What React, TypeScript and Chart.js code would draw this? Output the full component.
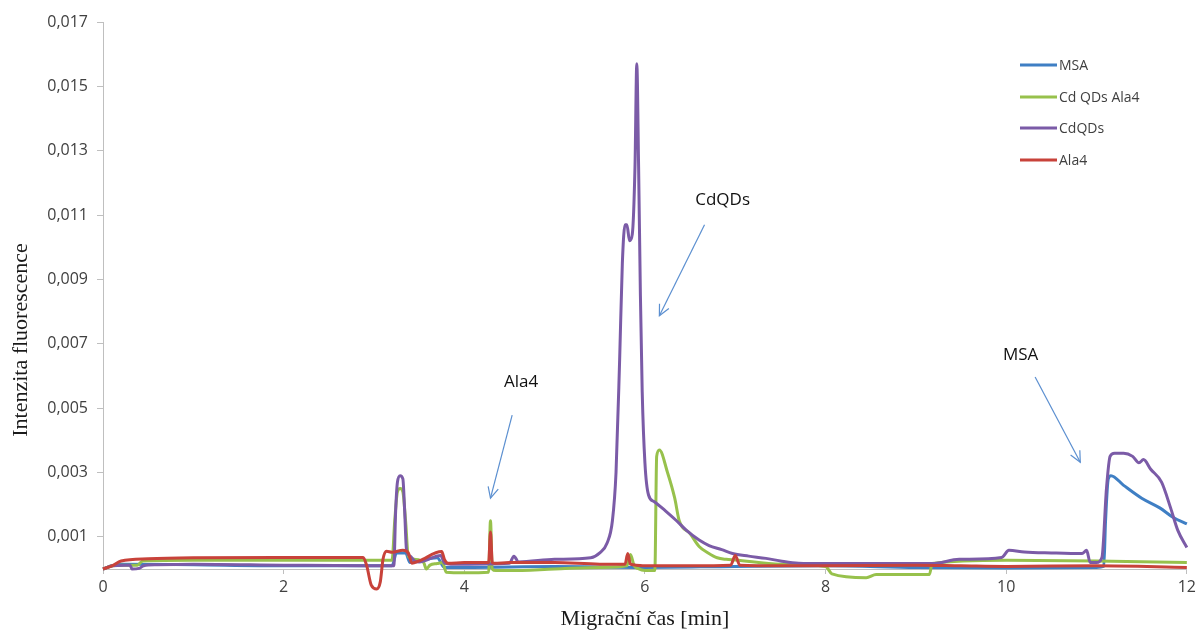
import React, { useEffect, useRef } from "react";
import { Chart, registerables } from "chart.js";

Chart.register(...registerables);

// MSA
const msaX = [0, 0.1, 0.2, 1.0, 2.0, 2.9, 3.2, 3.25, 3.3, 3.35, 3.4, 3.7, 3.78, 4.0, 5.0, 6.0, 7.0, 8.0, 9.0, 10.0, 11.0, 11.08, 11.1, 11.13, 11.16, 11.3, 11.5, 11.7, 11.85, 12.0];
const msaY = [0, 0.0001, 0.00015, 0.00013, 0.0001, 0.0001, 0.0001, 0.0005, 0.0005, 0.0005, 0.0002, 0.00035, 0.00005, 0.00005, 0.00008, 0.00005, 0.00008, 0.0001, 0.00005, 0.00003, 0.00005, 0.00008, 0.0015, 0.0028, 0.0029, 0.0026, 0.0022, 0.0019, 0.0016, 0.0014];

// Cd QDs Ala4
const cdAlaX = [0, 0.1, 0.2, 0.38, 0.44, 1.0, 2.0, 2.9, 3.2, 3.23, 3.26, 3.29, 3.32, 3.35, 3.38, 3.45, 3.55, 3.58, 3.62, 3.7, 3.76, 3.8, 4.0, 4.27, 4.29, 4.31, 4.35, 4.5, 5.0, 5.5, 5.8, 5.84, 5.88, 5.92, 6.0, 6.11, 6.13, 6.16, 6.25, 6.33, 6.38, 6.5, 6.6, 6.7, 6.8, 6.9, 7.0, 7.5, 8.0, 8.07, 8.45, 8.56, 9.15, 9.18, 10.0, 11.0, 12.0];
const cdAlaY = [0, 0.0001, 0.00012, 0.00012, 0.00025, 0.00027, 0.00027, 0.00027, 0.00027, 0.0015, 0.0024, 0.0025, 0.0024, 0.0015, 0.0004, 0.0003, 0.0002, 0.0, 0.00012, 0.00017, 0.0002, -0.0001, -0.00012, -0.0001, 0.0015, 0.0, -0.00005, -0.00005, 0.0, 0.00005, 0.0001, 0.00045, 0.0001, 0.00002, -0.00005, -0.00005, 0.0035, 0.0037, 0.003, 0.0022, 0.0015, 0.0011, 0.0007, 0.0005, 0.00035, 0.0003, 0.00028, 0.00015, 0.00008, -0.00015, -0.00027, -0.00017, -0.00017, 0.00017, 0.00027, 0.00025, 0.0002];

// CdQDs
const cdqdX = [0, 0.1, 0.25, 0.3, 0.32, 0.4, 0.45, 0.6, 1.0, 2.0, 2.9, 3.22, 3.24, 3.26, 3.29, 3.32, 3.34, 3.36, 3.4, 3.45, 3.5, 3.74, 3.78, 3.85, 4.5, 4.55, 4.6, 5.0, 5.4, 5.5, 5.58, 5.64, 5.68, 5.72, 5.75, 5.78, 5.8, 5.83, 5.86, 5.89, 5.91, 5.93, 5.95, 5.97, 6.0, 6.04, 6.1, 6.23, 6.35, 6.46, 6.6, 6.71, 6.85, 6.97, 7.15, 7.34, 7.5, 7.7, 8.0, 9.0, 9.18, 9.48, 9.95, 10.03, 10.2, 10.5, 10.84, 10.89, 10.93, 11.0, 11.06, 11.11, 11.15, 11.2, 11.3, 11.4, 11.47, 11.52, 11.6, 11.72, 11.82, 11.9, 12.0];
const cdqdY = [0, 0.0001, 0.00012, 0.00012, 0.0, 0.00002, 0.0001, 0.00013, 0.00015, 0.00012, 0.0001, 0.0001, 0.0018, 0.0027, 0.0029, 0.0028, 0.0018, 0.0006, 0.0004, 0.00025, 0.00022, 0.00042, 0.00018, 0.00015, 0.00018, 0.0004, 0.00022, 0.0003, 0.00035, 0.0005, 0.0008, 0.0015, 0.003, 0.0065, 0.0095, 0.0107, 0.0107, 0.0102, 0.0104, 0.0125, 0.0157, 0.0125, 0.0085, 0.0055, 0.0033, 0.0023, 0.0021, 0.0018, 0.0015, 0.0012, 0.0009, 0.00073, 0.0006, 0.00048, 0.0004, 0.00033, 0.00025, 0.00018, 0.00017, 0.00017, 0.00017, 0.0003, 0.00036, 0.00058, 0.00053, 0.0005, 0.00048, 0.00058, 0.0002, 0.0002, 0.00036, 0.0025, 0.0035, 0.0036, 0.0036, 0.0035, 0.0033, 0.0034, 0.0031, 0.0027, 0.0019, 0.0012, 0.00067];

// Ala4
const alaX = [0, 0.1, 0.2, 0.5, 1.0, 2.0, 2.88, 2.92, 2.97, 3.03, 3.07, 3.1, 3.14, 3.2, 3.32, 3.38, 3.42, 3.5, 3.75, 3.78, 3.82, 4.0, 4.27, 4.29, 4.31, 4.33, 4.5, 5.0, 5.5, 5.78, 5.81, 5.84, 5.9, 6.0, 6.5, 6.95, 7.0, 7.05, 7.5, 8.0, 9.0, 9.5, 10.0, 11.0, 12.0];
const alaY = [0, 0.0001, 0.00025, 0.00032, 0.00035, 0.00036, 0.00036, 0.0001, -0.0005, -0.00062, -0.0004, 0.0003, 0.00055, 0.00052, 0.00058, 0.0005, 0.00018, 0.00025, 0.00054, 0.0003, 0.00018, 0.0002, 0.0002, 0.00115, 0.0002, 0.00018, 0.0002, 0.0002, 0.00015, 0.00015, 0.00048, 0.00015, 0.00012, 0.0001, 0.0001, 0.00012, 0.00042, 0.00012, 0.0001, 0.0001, 0.00012, 0.0001, 0.00008, 0.0001, 0.00005];

const yTicks = [0.001, 0.003, 0.005, 0.007, 0.009, 0.011, 0.013, 0.015, 0.017];
const xTicks = [0, 2, 4, 6, 8, 10, 12];

const seriesNames = ["MSA", "Cd QDs Ala4", "CdQDs", "Ala4"];
const seriesColors = ["#3f7fc4", "#97c14c", "#7b5ba7", "#c8423a"];

// annotations: label position and arrow from/to, in data coordinates
const annLabels = ["Ala4", "CdQDs", "MSA"];
const annText = [[4.63, 0.00581], [6.86, 0.01145], [10.16, 0.00665]];
const annFrom = [[4.53, 0.00478], [6.66, 0.0107], [10.32, 0.00597]];
const annTo = [[4.29, 0.0022], [6.16, 0.00787], [10.82, 0.00332]];

const SANS = "'Open Sans', sans-serif";
const SERIF = "'Liberation Serif', 'Times New Roman', serif";

function toPoints(xs: number[], ys: number[]) {
  return xs.map((x, i) => ({ x, y: ys[i] }));
}

const overlayPlugin = {
  id: "overlay",
  afterDraw(chart: any) {
    const ctx = chart.ctx as CanvasRenderingContext2D;
    const xs = chart.scales.x;
    const ys = chart.scales.y;
    const area = chart.chartArea;
    ctx.save();
    // axis titles
    ctx.fillStyle = "#1a1a1a";
    ctx.font = `22px ${SERIF}`;
    ctx.textAlign = "center";
    ctx.textBaseline = "middle";
    ctx.fillText("Migrační čas [min]", (area.left + area.right) / 2, 619);
    ctx.save();
    ctx.translate(21, 340);
    ctx.rotate(-Math.PI / 2);
    ctx.fillText("Intenzita fluorescence", 0, 0);
    ctx.restore();

    // legend
    ctx.font = `14px ${SANS}`;
    ctx.textAlign = "left";
    ctx.textBaseline = "middle";
    const legY = [65, 97, 128, 160];
    seriesNames.forEach((n, i) => {
      ctx.strokeStyle = seriesColors[i];
      ctx.lineWidth = 3;
      ctx.beginPath();
      ctx.moveTo(1020, legY[i]);
      ctx.lineTo(1057, legY[i]);
      ctx.stroke();
      ctx.fillStyle = "#404040";
      ctx.fillText(n, 1059, legY[i] + 1);
    });

    // annotations
    ctx.font = `17px ${SANS}`;
    ctx.textAlign = "center";
    ctx.fillStyle = "#111";
    annLabels.forEach((t, i) => {
      ctx.fillText(t, xs.getPixelForValue(annText[i][0]), ys.getPixelForValue(annText[i][1]));
      const x1 = xs.getPixelForValue(annFrom[i][0]);
      const y1 = ys.getPixelForValue(annFrom[i][1]);
      const x2 = xs.getPixelForValue(annTo[i][0]);
      const y2 = ys.getPixelForValue(annTo[i][1]);
      ctx.strokeStyle = "#5b8fd0";
      ctx.lineWidth = 1.2;
      ctx.beginPath();
      ctx.moveTo(x1, y1);
      ctx.lineTo(x2, y2);
      ctx.stroke();
      const ang = Math.atan2(y2 - y1, x2 - x1);
      const L = 12;
      const spread = 0.45;
      ctx.beginPath();
      ctx.moveTo(x2 - L * Math.cos(ang - spread), y2 - L * Math.sin(ang - spread));
      ctx.lineTo(x2, y2);
      ctx.lineTo(x2 - L * Math.cos(ang + spread), y2 - L * Math.sin(ang + spread));
      ctx.stroke();
    });
    ctx.restore();
  },
};

export default function App() {
  const ref = useRef<HTMLCanvasElement | null>(null);
  useEffect(() => {
    if (!ref.current) return;
    const datasets = [
      { label: seriesNames[0], data: toPoints(msaX, msaY), order: 4 },
      { label: seriesNames[1], data: toPoints(cdAlaX, cdAlaY), order: 3 },
      { label: seriesNames[2], data: toPoints(cdqdX, cdqdY), order: 2 },
      { label: seriesNames[3], data: toPoints(alaX, alaY), order: 1 },
    ].map((d, i) => ({
      ...d,
      borderColor: seriesColors[i],
      backgroundColor: seriesColors[i],
      borderWidth: 3,
      pointRadius: 0,
      fill: false,
      cubicInterpolationMode: "monotone" as const,
      clip: false as any,
    }));
    const chart = new Chart(ref.current, {
      type: "line",
      data: { datasets },
      plugins: [overlayPlugin],
      options: {
        animation: false,
        responsive: true,
        maintainAspectRatio: false,
        layout: { padding: { left: 0, right: 12, top: 22, bottom: 0 } },
        plugins: { legend: { display: false }, tooltip: { enabled: false } },
        scales: {
          x: {
            type: "linear",
            min: 0,
            max: 12,
            afterBuildTicks: (s: any) => {
              s.ticks = xTicks.map((v) => ({ value: v }));
            },
            afterFit: (s: any) => {
              s.height = 62;
            },
            grid: { drawOnChartArea: false, drawTicks: true, tickLength: 5, color: "#bfbfbf" },
            border: { color: "#bfbfbf", width: 1 },
            ticks: { color: "#404040", font: { family: SANS, size: 16 }, padding: 4, maxRotation: 0 },
          },
          y: {
            type: "linear",
            min: 0,
            max: 0.017,
            afterBuildTicks: (s: any) => {
              s.ticks = yTicks.map((v) => ({ value: v }));
            },
            afterFit: (s: any) => {
              s.width = 103;
            },
            grid: { drawOnChartArea: false, drawTicks: true, tickLength: 6, color: "#bfbfbf" },
            border: { color: "#bfbfbf", width: 1 },
            ticks: {
              color: "#404040",
              font: { family: SANS, size: 16 },
              padding: 9,
              callback: (v: any) => Number(v).toFixed(3).replace(".", ","),
            },
          },
        },
      },
    });
    return () => chart.destroy();
  }, []);
  return (
    <div style={{ position: "fixed", left: 0, top: 0, width: 1200, height: 631, background: "#fff" }}>
      <canvas ref={ref} />
    </div>
  );
}
